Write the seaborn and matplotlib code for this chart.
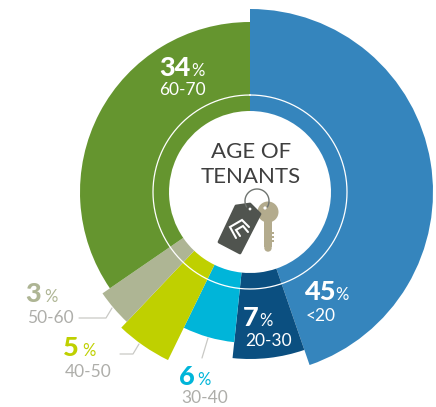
import numpy as np
import seaborn as sns
import matplotlib
matplotlib.use('Agg')
import matplotlib.pyplot as plt
from matplotlib.patches import Polygon, Circle, Rectangle

# Data
age_groups = ['<20', '20-30', '30-40', '40-50', '50-60', '60-70']
percents = [45, 7, 6, 5, 3, 34]
sweep_deg = [161, 25, 20, 17.5, 12, 124.5]
outer_radius = [183, 167, 151, 187, 179, 170]
colors = ['#3585bd', '#0b4f80', '#00b5d9', '#bfd000', '#aeb594', '#65952f']

sns.set_theme(style='white')
plt.rcParams['font.family'] = ['Lato', 'Roboto', 'DejaVu Sans']

W, H = 436, 407
cx, cy, rmax, hole = 250, 192, 195, 81

fig = plt.figure(figsize=(W / 100, H / 100), dpi=100)
ax = fig.add_axes([(cx - rmax) / W, 1 - (cy + rmax) / H, 2 * rmax / W, 2 * rmax / H], projection='polar')
ax.set_theta_zero_location('N')
ax.set_theta_direction(-1)
ax.set_ylim(0, rmax)
ax.axis('off')

# Wedges, clockwise from 12 o'clock
widths = np.radians(sweep_deg)
starts = np.concatenate([[0], np.cumsum(widths)[:-1]])
heights = np.array(outer_radius) - hole
ax.bar(starts, heights, width=widths, bottom=hole, align='edge', color=sns.color_palette(colors), linewidth=0)

# Thin white ring
t = np.linspace(0, 2 * np.pi, 361)
ax.plot(t, np.full_like(t, 97), color='white', lw=0.9)

# Pixel overlay for labels and icon
ov = fig.add_axes([0, 0, 1, 1])
ov.set_xlim(0, W)
ov.set_ylim(H, 0)
ov.axis('off')
ov.patch.set_alpha(0)

ov.text(251, 158, 'AGE OF', ha='center', va='baseline', fontsize=16, color='#3f3f3f')
ov.text(251, 183, 'TENANTS', ha='center', va='baseline', fontsize=16, color='#3f3f3f')

# (x of number, baseline, x of %, x of range, baseline of range, number colour, range colour)
grey_txt = '#aeaeaa'
label_pos = [
    (304, 300, 335, 306, 321, 'white', 'white'),
    (243, 326, 259, 245, 346, 'white', 'white'),
    (179, 385, 197, 181, 403, colors[2], grey_txt),
    (63, 356, 82, 65, 377, colors[3], grey_txt),
    (25, 302, 44, 27, 323, colors[4], grey_txt),
    (159, 76, 191, 159, 95, 'white', 'white'),
]
for pct, grp, (xn, yn, xp, xr, yr, cn, cr) in zip(percents, age_groups, label_pos):
    ov.text(xn, yn, str(pct), fontsize=19.5, fontweight='black', color=cn, ha='left', va='baseline')
    ov.text(xp, yn, '%', fontsize=12, color=cn, ha='left', va='baseline')
    ov.text(xr, yr, grp, fontsize=12.5, color=cr, ha='left', va='baseline')

# Leader lines
for xs, ys in [([79, 106, 112], [318, 318, 308]), ([120, 133, 139], [354, 354, 344]), ([202, 208], [358, 338])]:
    ov.plot(xs, ys, color='#c9c9c5', lw=0.9)

# Key ring, key and tag icon
th = np.radians(np.linspace(-30, 210, 60))
ov.plot(257 + 12 * np.cos(th), 201 - 12 * np.sin(th), color='#6f7470', lw=1.0)
ov.add_patch(Rectangle((264, 218), 7.5, 29, color='#b3ab8d', lw=0))
ov.add_patch(Circle((268, 248), 3.7, color='#b3ab8d', lw=0))
for ty in [232, 236, 240]:
    ov.add_patch(Rectangle((271, ty), 2.5, 2.2, color='#b3ab8d', lw=0))
ov.add_patch(Circle((268, 212), 10.5, color='#b3ab8d', lw=0))
ov.add_patch(Circle((265, 208), 1.6, color='white', lw=0))
ov.add_patch(Polygon([(236, 206), (250, 204), (260, 214), (240, 253), (219, 242)], closed=True,
                     facecolor='#50544f', edgecolor='#50544f', lw=2, joinstyle='round'))
ov.add_patch(Circle((250, 209), 1.4, color='white', lw=0))
ov.plot([249, 242, 230, 236], [227, 220, 227, 238], color='white', lw=1.5, solid_joinstyle='miter')
ov.plot([248, 243, 236, 240], [232, 226, 230, 236], color='white', lw=1.5, solid_joinstyle='miter')

fig.savefig('out.png', dpi=100, facecolor='white')
